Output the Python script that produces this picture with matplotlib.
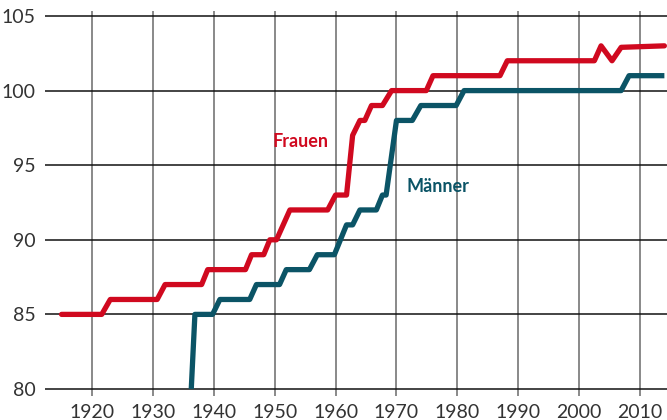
import matplotlib
matplotlib.use("Agg")
import matplotlib.pyplot as plt

# Data (year, life-expectancy-like value)
frauen_years = [1915, 1921.6, 1923, 1930.7, 1932, 1938, 1939, 1945.2, 1946.2, 1948.2,
                1949.2, 1950.3, 1952.5, 1958.7, 1960, 1961.8, 1962.8, 1964, 1964.8,
                1965.9, 1967.7, 1969.2, 1974.9, 1976, 1987, 1988.2, 2002.5, 2003.6,
                2005.4, 2006.9, 2014]
frauen_values = [85, 85, 86, 86, 87, 87, 88, 88, 89, 89,
                 90, 90, 92, 92, 93, 93, 97, 98, 98,
                 99, 99, 100, 100, 101, 101, 102, 102, 103,
                 102, 102.9, 103]

maenner_years = [1936.3, 1936.9, 1939.8, 1941, 1945.9, 1947, 1950.8, 1951.9, 1955.7,
                 1957, 1959.8, 1961.8, 1962.8, 1964, 1966.7, 1967.7, 1968.3, 1970,
                 1972.6, 1974, 1979.8, 1981.1, 2006.9, 2008.2, 2014]
maenner_values = [80, 85, 85, 86, 86, 87, 87, 88, 88,
                  89, 89, 91, 91, 92, 92, 93, 93, 98,
                  98, 99, 99, 100, 100, 101, 101]

x_ticks = [1920, 1930, 1940, 1950, 1960, 1970, 1980, 1990, 2000, 2010]
y_ticks = [80, 85, 90, 95, 100, 105]

RED = "#d0091f"
TEAL = "#0b5466"

plt.rcParams['font.family'] = ['Lato', 'DejaVu Sans']

fig = plt.figure(figsize=(6.67, 4.20), dpi=100)
ax = fig.add_axes([45/667, 1 - 396/420, (667-45)/667, (396-11)/420])
ax.set_xlim(1912.28, 2014.43)
ax.set_ylim(79.53, 105.335)

for s in ax.spines.values():
    s.set_visible(False)

for x in x_ticks:
    ax.axvline(x, color="#808080", lw=1.3, zorder=1)
for y in y_ticks:
    ax.axhline(y, color="#111111", lw=1.1, zorder=1)

ax.plot(frauen_years, frauen_values, color=RED, lw=3.8, solid_capstyle="round",
        solid_joinstyle="round", zorder=3)
ax.plot(maenner_years, maenner_values, color=TEAL, lw=3.8, solid_capstyle="butt",
        solid_joinstyle="round", zorder=3)

ax.text(1949.56, 96.62, "Frauen", color=RED, fontsize=13, fontweight="bold",
        ha="left", va="center", zorder=4)
ax.text(1971.73, 93.6, "Männer", color=TEAL, fontsize=13, fontweight="bold",
        ha="left", va="center", zorder=4)

ax.set_xticks(x_ticks)
ax.set_yticks(y_ticks)
ax.set_xticklabels([str(v) for v in x_ticks])
ax.set_yticklabels([str(v) for v in y_ticks])
ax.tick_params(axis="both", length=0, labelsize=14, labelcolor="#333333")
ax.tick_params(axis="x", pad=6)
ax.tick_params(axis="y", pad=7)
for lab in ax.get_xticklabels() + ax.get_yticklabels():
    lab.set_fontweight("normal")

fig.savefig("out.png", dpi=100)
